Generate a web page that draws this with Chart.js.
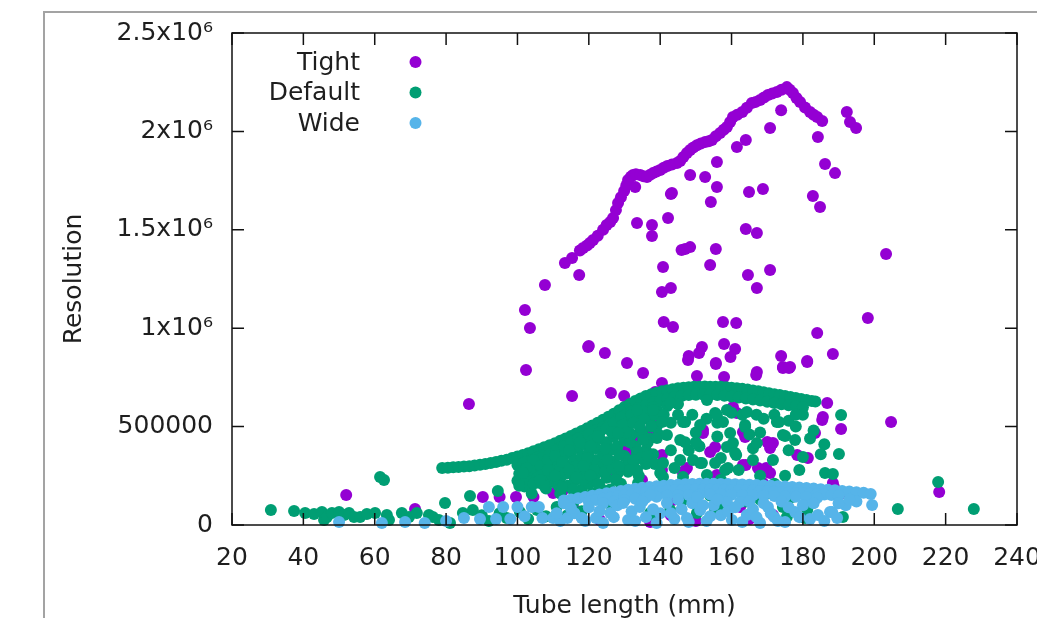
<!DOCTYPE html>
<html><head><meta charset="utf-8">
<script src="https://cdn.jsdelivr.net/npm/chart.js@4.4.0/dist/chart.umd.min.js"></script>
<style>html,body{margin:0;padding:0;background:#fff;}#wrap{position:relative;width:1037px;height:618px;}</style>
</head><body><div id="wrap"><canvas id="c" width="1037" height="618"></canvas></div>
<script>
const seriesNames = ['Tight', 'Default', 'Wide'];
const seriesColors = ['#9400d3', '#009e73', '#56b4e9'];
const xTickValues = [20, 40, 60, 80, 100, 120, 140, 160, 180, 200, 220, 240];
const yTickValues = [0, 500000, 1000000, 1500000, 2000000, 2500000];
const yTickLabels = ['0', '500000', '1x10⁶', '1.5x10⁶', '2x10⁶', '2.5x10⁶'];

const tightX = [
113.3,115.3,117.5,118.4,119.5,120.3,121.2,122.5,124.0,125.0,126.0,126.8,127.6,128.2,129.0,129.9,130.5,131.0,131.8,132.4,
133.2,134.4,135.3,136.3,137.2,138.0,139.0,140.0,141.0,142.0,143.3,144.7,145.6,146.5,147.5,148.4,149.3,150.3,151.4,152.6,
153.6,154.5,155.6,156.8,157.8,158.7,159.6,160.4,161.6,163.0,164.3,165.7,166.8,168.0,169.1,170.2,171.4,172.7,174.0,175.5,
176.3,177.2,178.2,179.2,180.6,182.0,183.0,184.0,185.4,
133.0,133.5,137.7,137.7,142.2,143.0,117.3,107.7,102.1,103.5,140.8,140.5,143.0,141.0,143.6,120.0,124.5,146.0,148.4,152.6,
155.9,155.9,154.2,161.5,164.0,170.8,173.9,184.2,192.3,193.2,194.9,143.3,164.9,168.8,182.8,184.8,186.2,189.0,164.0,167.1,
147.0,148.4,155.6,154.0,164.6,170.8,167.1,203.3,198.2,157.6,161.3,184.0,157.9,161.0,159.7,151.7,150.9,148.0,155.6,173.9,
181.2,188.4,174.4,176.4,167.1,130.7,102.4,119.8,
86.4,115.3,126.2,129.9,150.3,157.9,166.9,174.4,176.1,181.2,155.6,147.8,140.5,138.6,135.2,186.8,185.6,183.4,160.4,161.5,
170.0,171.6,170.8,178.4,181.4,163.8,163.2,154.0,155.4,152.0,152.0,163.2,167.4,169.7,164.0,147.5,147.0,146.4,140.5,140.5,
132.0,132.4,133.8,138.0,140.0,137.2,130.1,134.9,137.2,162.4,168.8,143.6,155.9,170.8,166.0,182.8,185.4,190.7,204.7,218.2,
188.4,188.7,190.4,125.1,126.0,171.6,129.6,130.7,114.7,127.9,90.3,95.0,99.6,104.5,110.0,112.8,52.0,71.3,116.1,123.1,
143.0,150.0,157.0,165.0
];
const tightY = [
1331000,1357000,1395000,1407000,1420000,1433000,1448000,1470000,1500000,1524000,1540000,1560000,1600000,1636000,1665000,1697000,1725000,1753000,1770000,1778000,
1782000,1778000,1772000,1768000,1780000,1788000,1796000,1804000,1815000,1824000,1832000,1839000,1850000,1870000,1890000,1905000,1918000,1930000,1938000,1946000,
1950000,1956000,1975000,1992000,2008000,2022000,2048000,2073000,2085000,2098000,2120000,2144000,2150000,2159000,2172000,2185000,2192000,2200000,2212000,2225000,
2212000,2195000,2170000,2149000,2122000,2098000,2085000,2073000,2053000,
1717000,1534000,1524000,1468000,1560000,1682000,1270000,1219000,1092000,1001000,1311000,1184000,1204000,1031000,1006000,909000,874000,1397000,1778000,1768000,
1844000,1717000,1641000,1921000,1956000,2017000,2108000,1971000,2098000,2048000,2017000,1687000,1692000,1707000,1672000,1616000,1834000,1788000,1504000,1484000,
1402000,1412000,1402000,1321000,1270000,1296000,1204000,1377000,1052000,1031000,1026000,976000,920000,894000,854000,904000,874000,859000,823000,859000,
833000,869000,803000,803000,777000,823000,788000,904000,
615000,655000,671000,655000,757000,752000,762000,798000,798000,828000,818000,838000,721000,676000,772000,620000,549000,467000,600000,569000,
422000,417000,391000,356000,340000,447000,473000,371000,396000,483000,467000,305000,290000,290000,305000,290000,279000,264000,279000,356000,
396000,371000,447000,544000,544000,483000,295000,229000,15000,91000,213000,127000,254000,264000,168000,127000,534000,488000,523000,168000,
213000,193000,158000,244000,142000,51000,396000,295000,264000,483000,142000,142000,142000,142000,162000,178000,152000,81000,76000,25000,
50000,20000,60000,30000
];

const defaultX = [
78.9,80.5,82.0,83.5,85.0,86.5,88.0,89.5,91.0,92.5,94.0,95.5,97.0,98.5,100.0,101.5,103.0,104.5,106.0,107.5,
109.0,110.5,112.0,113.5,115.0,116.5,118.0,119.5,121.0,122.5,124.0,125.5,127.0,128.5,130.0,131.5,133.0,134.5,136.0,137.5,
139.0,140.5,142.0,143.5,145.0,146.5,148.0,149.5,151.0,152.5,154.0,155.5,157.0,158.5,160.0,161.5,163.0,164.5,166.0,167.5,
169.0,170.5,172.0,173.5,175.0,176.5,178.0,179.5,181.0,182.5,183.5,
100,102,104,106,108,110,112,114,116,118,120,122,124,126,128,130,132,134,136,138,
140,142,144,146,148,150,152,154,156,158,160,162,164,166,168,170,172,174,176,178,180,
130,133,136,139,142,145,
100,101,102,103,103,104,105,105,106,107,107,108,108,109,109,110,110,111,111,112,
112,112,113,113,114,114,115,115,115,116,116,117,117,117,118,118,119,119,120,120,
120,120,121,121,122,122,122,123,123,123,124,124,125,125,125,126,126,127,127,127,
128,128,129,129,129,130,130,131,131,132,132,133,133,134,134,135,135,136,136,137,
137,138,138,139,
100.5,101.5,102.5,103.5,104.5,105.5,106.5,107.5,108.5,109.5,110.5,111.5,112.5,113.5,114.5,115.5,116.5,117.5,118.5,119.5,
120.5,121.5,122.5,123.5,124.5,125.5,126.5,127.5,128.5,129.5,130.5,131.5,132.5,133.5,134.5,135.5,136.5,137.5,138.5,139.5,
100.5,102.5,104.5,106.5,108.5,110.5,112.5,114.5,116.5,118.5,120.5,122.5,124.5,126.5,128.5,130.5,132.5,134.5,136.5,138.5,
141,143,145,149,150,153,156,160,163,167,168,172,
176,178,180,182,143,147,151,157,162,166,176,179,185,148,154,160,168,175,157,
146.4,151.2,155.4,157.6,159.6,160.4,164.3,163.8,172.7,174.4,167.1,171.6,161.3,151.2,159.0,145.6,135.2,139.1,141.9,145.6,
134.3,140.5,133.5,138.0,142.8,153.1,149.2,140.8,132.4,133.5,140.8,146.4,153.1,181.2,175.5,180.0,177.8,174.4,150.3,137.2,
157.6,158.7,186.2,190.7,190.1,188.4,173.3,175.0,163.8,155.9,147.0,158.7,151.7,155.4,158.2,161.0,177.0,180.6,191.2,206.6,
217.9,227.9,128.2,125.1,131.5,133.8,140.0,144.7,128.7,142.8,138.6,125.4,155.4,166.0,168.0,170.0,162.0,148.0,144.0,150.0,
156.0,165.0,169.0,178.0,183.0,186.0,136.0,146.0,152.0,164.0,172.0,
30.9,37.4,40.5,43.0,45.2,45.8,46.6,48.0,50.0,51.4,52.8,54.2,55.9,57.8,60.1,61.5,62.6,63.4,64.0,67.6,
69.6,71.8,75.2,76.3,78.0,79.7,81.1,84.7,86.7,87.5,90.0,92.0,94.5,95.0,97.0,100.7,101.6,103.0,105.5,106.3,
108.0,111.0,114.0,115.6,118.0,122.3,127.9
];
const defaultY = [
290000,291000,293000,295000,297000,299000,302000,306000,310000,315000,320000,326000,332000,340000,348000,356000,365000,375000,385000,395000,
405000,416000,428000,440000,452000,465000,478000,491000,505000,520000,535000,550000,565000,583000,600000,615000,630000,643000,655000,664000,
672000,679000,685000,690000,695000,698000,700000,702000,703000,704000,703000,703000,702000,700000,698000,695000,692000,688000,684000,680000,
675000,670000,665000,660000,655000,650000,645000,640000,635000,630000,627000,
305000,318000,332000,345000,360000,375000,392000,410000,428000,445000,462000,480000,498000,517000,537000,557000,575000,595000,610000,622000,
633000,642000,650000,655000,660000,662000,663000,662000,660000,657000,653000,648000,643000,638000,632000,626000,620000,614000,608000,603000,598000,
520000,545000,570000,590000,605000,615000,
225000,280000,195000,300000,250000,160000,320000,270000,215000,340000,290000,245000,185000,360000,310000,270000,220000,380000,330000,290000,
240000,160000,400000,350000,305000,200000,420000,370000,265000,330000,225000,440000,390000,290000,180000,345000,410000,250000,460000,370000,
300000,210000,430000,160000,390000,330000,260000,470000,440000,200000,360000,300000,490000,420000,240000,380000,180000,520000,450000,320000,
400000,260000,545000,480000,210000,430000,350000,500000,270000,560000,460000,330000,400000,520000,250000,580000,470000,380000,310000,540000,
440000,600000,360000,500000,
260000,310000,230000,280000,330000,240000,300000,200000,330000,260000,350000,200000,320000,260000,380000,180000,300000,420000,230000,340000,
400000,280000,450000,180000,390000,330000,470000,230000,360000,510000,300000,420000,520000,370000,470000,540000,420000,500000,560000,460000,
200000,290000,210000,250000,280000,250000,190000,280000,240000,300000,250000,210000,270000,290000,300000,470000,290000,340000,350000,310000,
560000,520000,560000,560000,470000,540000,520000,570000,560000,560000,470000,560000,
530000,500000,560000,440000,380000,420000,400000,340000,280000,390000,380000,280000,360000,200000,150000,180000,130000,250000,230000,
523000,508000,569000,523000,467000,417000,574000,508000,523000,457000,417000,330000,356000,315000,290000,330000,432000,442000,457000,432000,
498000,523000,584000,584000,620000,635000,330000,315000,330000,279000,244000,244000,254000,76000,41000,345000,432000,91000,61000,61000,
91000,584000,264000,559000,361000,259000,523000,452000,498000,559000,523000,396000,315000,315000,279000,366000,142000,36000,41000,81000,
218000,81000,467000,330000,279000,213000,264000,178000,142000,76000,51000,112000,76000,330000,250000,160000,200000,380000,290000,420000,
450000,460000,540000,560000,480000,410000,150000,120000,180000,120000,210000,
76000,71000,61000,56000,66000,25000,41000,61000,66000,51000,61000,41000,41000,56000,61000,244000,229000,51000,25000,61000,
41000,61000,51000,41000,25000,112000,10000,61000,147000,76000,50000,20000,173000,60000,35000,66000,264000,30000,76000,229000,
45000,91000,50000,112000,70000,142000,163000
];

const wideX = [
113,115,117,119,121,123,125,127,129,131,133,135,137,139,141,143,145,147,149,151,
153,155,157,159,161,163,165,167,169,171,173,175,177,179,181,183,185,187,189,191,
193,195,197,199,
120,122,124,126,128,130,132,134,136,138,140,142,144,146,148,150,152,154,156,158,
160,162,164,166,168,170,172,174,176,178,180,182,184,186,188,190,
124,127,130,133,136,139,142,145,148,151,154,157,160,163,166,169,172,175,178,181,184,
50.0,62.0,68.5,74.0,80.0,85.0,89.5,92.0,94.0,96.0,98.0,100.0,102.0,104.0,106.0,107.0,110.0,112.0,114.0,116.0,
118.0,120.0,122.0,124.0,126.0,128.0,129.6,131.0,132.0,134.3,136.0,137.2,139.0,140.0,141.9,144.0,146.0,147.5,149.0,150.3,
151.2,153.0,155.0,157.0,158.7,160.1,162.4,164.3,166.0,168.0,170.2,172.0,174.0,175.0,177.8,180.0,182.0,184.2,187.6,188.2,
189.6,192.0,195.0,199.4,113.0,
111,115,119,123,127,133,135,138,143,145,148,152,154,156,159,161,163,165,167,169,
171,173,176,179,183,186,190,193
];
const wideY = [
124000,130000,136000,142000,149000,155000,161000,167000,173000,179000,184000,189000,193000,197000,200000,203000,205000,207000,208000,209000,
209000,209000,208000,208000,207000,206000,204000,203000,201000,199000,197000,195000,193000,191000,188000,185000,182000,179000,176000,173000,
170000,167000,164000,158000,
120000,127000,133000,139000,145000,151000,156000,161000,165000,169000,172000,175000,177000,178000,179000,180000,180000,180000,180000,179000,
178000,177000,176000,175000,173000,171000,169000,167000,165000,163000,161000,159000,157000,155000,152000,150000,
110000,118000,126000,133000,139000,144000,148000,151000,153000,154000,155000,155000,154000,153000,151000,149000,147000,145000,143000,141000,139000,
15000,10000,15000,10000,20000,35000,30000,91000,30000,91000,30000,91000,45000,91000,91000,36000,36000,20000,36000,60000,
36000,90000,36000,10000,61000,100000,112000,25000,70000,91000,40000,152000,10000,60000,112000,30000,80000,36000,110000,142000,
76000,20000,100000,50000,117000,25000,117000,51000,80000,10000,91000,40000,120000,15000,66000,100000,30000,51000,66000,66000,
36000,100000,120000,102000,110000,
60000,85000,20000,70000,40000,20000,120000,80000,60000,130000,15000,100000,45000,130000,70000,90000,15000,120000,40000,110000,
60000,20000,90000,40000,110000,20000,110000,130000
];

const toPoints = (xs, ys) => xs.map((x, i) => ({x: x, y: ys[i]}));
const FONT = 'DejaVu Sans';
const TXT = '#1e1e1e';

const framePlugin = {
  id: 'frame',
  beforeDraw(chart) {
    const ctx = chart.ctx;
    ctx.save();
    ctx.fillStyle = '#fff';
    ctx.fillRect(0, 0, chart.width, chart.height);
    ctx.fillStyle = '#a3a3a3';
    ctx.fillRect(43, 11, chart.width - 43, 2);
    ctx.fillRect(43, 11, 2, chart.height - 11);
    ctx.restore();
  },
  afterDatasetsDraw(chart) {
    const {ctx, chartArea: a, scales: {x, y}} = chart;
    ctx.save();
    ctx.strokeStyle = '#111';
    ctx.lineWidth = 1.5;
    ctx.strokeRect(a.left, a.top, a.right - a.left, a.bottom - a.top);
    const tl = 12;
    ctx.beginPath();
    x.ticks.forEach(t => {
      const p = x.getPixelForValue(t.value);
      ctx.moveTo(p, a.bottom); ctx.lineTo(p, a.bottom - tl);
      ctx.moveTo(p, a.top); ctx.lineTo(p, a.top + tl);
    });
    y.ticks.forEach(t => {
      const p = y.getPixelForValue(t.value);
      ctx.moveTo(a.left, p); ctx.lineTo(a.left + tl, p);
      ctx.moveTo(a.right, p); ctx.lineTo(a.right - tl, p);
    });
    ctx.stroke();
    ctx.font = '25px "' + FONT + '"';
    ctx.textAlign = 'right';
    ctx.textBaseline = 'middle';
    const rows = [62, 92.5, 123];
    chart.data.datasets.forEach((ds, i) => {
      ctx.fillStyle = TXT;
      ctx.fillText(ds.label, 360, rows[i] + 1);
      ctx.fillStyle = ds.backgroundColor;
      ctx.beginPath();
      ctx.arc(415.5, rows[i], 6, 0, Math.PI * 2);
      ctx.fill();
    });
    ctx.restore();
  }
};

new Chart(document.getElementById('c'), {
  type: 'scatter',
  data: {
    datasets: [
      {label: seriesNames[0], data: toPoints(tightX, tightY), backgroundColor: seriesColors[0], order: 2},
      {label: seriesNames[1], data: toPoints(defaultX, defaultY), backgroundColor: seriesColors[1], order: 1},
      {label: seriesNames[2], data: toPoints(wideX, wideY), backgroundColor: seriesColors[2], order: 0}
    ]
  },
  options: {
    responsive: false,
    animation: false,
    devicePixelRatio: 1,
    layout: {padding: {left: 0, right: 20, top: 33, bottom: 0}},
    plugins: {legend: {display: false}, tooltip: {enabled: false}},
    elements: {point: {radius: 6, hoverRadius: 6, borderWidth: 0}},
    datasets: {scatter: {clip: false}},
    scales: {
      x: {
        type: 'linear', min: 20, max: 240,
        grid: {display: false, drawTicks: false},
        border: {display: false},
        afterBuildTicks: s => { s.ticks = xTickValues.map(v => ({value: v})); },
        afterFit: s => { s.height = 93; s.paddingLeft = 0; s.paddingRight = 0; },
        ticks: {font: {family: FONT, size: 25}, color: TXT, padding: 18, maxRotation: 0, autoSkip: false},
        title: {display: true, text: 'Tube length (mm)', font: {family: FONT, size: 25}, color: TXT, padding: {top: 0, bottom: -3}}
      },
      y: {
        type: 'linear', min: 0, max: 2500000,
        grid: {display: false, drawTicks: false},
        border: {display: false},
        afterBuildTicks: s => { s.ticks = yTickValues.map(v => ({value: v})); },
        afterFit: s => { s.width = 232; s.paddingTop = 0; s.paddingBottom = 0; },
        ticks: {
          font: {family: FONT, size: 25}, color: TXT, padding: 19, autoSkip: false,
          callback: v => { const i = yTickValues.indexOf(v); return i >= 0 ? yTickLabels[i] : ''; }
        },
        title: {display: true, text: 'Resolution', font: {family: FONT, size: 25}, color: TXT, padding: {top: 59, bottom: 0}}
      }
    }
  },
  plugins: [framePlugin]
});
</script></body></html>
